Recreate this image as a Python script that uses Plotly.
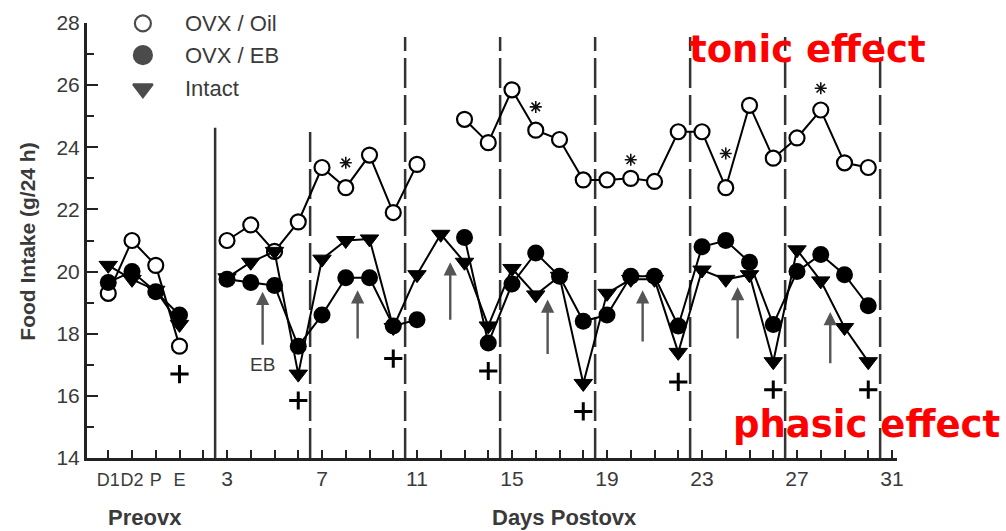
import plotly.graph_objects as go

# ---- data -------------------------------------------------------------
# Pre-ovariectomy cycle stages sit at x = -2..1, post-ovx days at x = 3..30
preovx_pos = [-2, -1, 0, 1]
preovx_labels = ["D1", "D2", "P", "E"]
post_days = list(range(3, 31))
post_ticks = [3, 7, 11, 15, 19, 23, 27, 31]

oil_pre = [19.3, 21.0, 20.2, 17.6]
eb_pre = [19.65, 20.0, 19.35, 18.6]
intact_pre = [20.2, 19.75, 19.4, 18.3]

oil_post = [21.0, 21.5, 20.65, 21.6, 23.35, 22.7, 23.75, 21.9, 23.45, None,
            24.9, 24.15, 25.85, 24.55, 24.25, 22.95, 22.95, 23.0, 22.9, 24.5,
            24.5, 22.7, 25.35, 23.65, 24.3, 25.2, 23.5, 23.35]
eb_post = [19.75, 19.65, 19.55, 17.6, 18.6, 19.8, 19.8, 18.25, 18.45, None,
           21.1, 17.7, 19.6, 20.6, 19.85, 18.4, 18.6, 19.85, 19.85, 18.25,
           20.8, 21.0, 20.3, 18.3, 20.0, 20.55, 19.9, 18.9]
intact_post = [19.8, 20.3, 20.65, 16.7, 20.4, 21.0, 21.05, 18.2, 19.9, 21.2,
               20.3, 18.25, 20.1, 19.25, 19.85, 16.4, 19.3, 19.75, 19.75, 17.4,
               20.05, 19.75, 19.9, 17.1, 20.7, 19.7, 18.2, 17.1]

# significance marks
plus_x = [1, 6, 10, 14, 18, 22, 26, 30]
plus_y = [16.7, 15.85, 17.2, 16.8, 15.5, 16.45, 16.2, 16.2]
star_x = [8, 16, 20, 24, 28]
star_y = [23.5, 25.3, 23.6, 23.8, 25.9]

# EB injection arrows (day, arrow tip, arrow tail)
arrow_x = [4.5, 8.5, 12.4, 16.5, 20.5, 24.5, 28.4]
arrow_tip = [19.35, 19.4, 20.3, 19.1, 19.4, 19.5, 18.7]
arrow_tail = [17.6, 17.8, 18.4, 17.3, 17.7, 17.8, 17.0]

# section separators: (x, top of line, dashed?)
sep_x = [2.5, 6.5, 10.5, 14.5, 18.5, 22.5, 26.5, 30.5]
sep_top = [24.63, 24.7, 27.55, 27.55, 27.55, 27.55, 27.55, 27.55]
sep_dash = [False, True, True, True, True, True, True, True]

legend_names = ["OVX / Oil", "OVX / EB", "Intact"]

# ---- figure -----------------------------------------------------------
FONT = "Liberation Sans, Arial, sans-serif"
INK = "#222"
TXT = "#3a3a3a"

x_all = preovx_pos + [None] + post_days

def series(pre, post):
    return pre + [None] + post

fig = go.Figure()

fig.add_trace(go.Scatter(
    x=x_all, y=series(oil_pre, oil_post), mode="lines+markers",
    line=dict(color="black", width=2), connectgaps=False,
    marker=dict(symbol="circle", size=15, color="white",
                line=dict(color="black", width=2.2)),
    name=legend_names[0], cliponaxis=False))
fig.add_trace(go.Scatter(
    x=x_all, y=series(intact_pre, intact_post), mode="lines+markers",
    line=dict(color="black", width=2), connectgaps=False,
    marker=dict(symbol="triangle-down", size=16, color="black",
                line=dict(color="black", width=1)),
    name=legend_names[2], cliponaxis=False))
fig.add_trace(go.Scatter(
    x=x_all, y=series(eb_pre, eb_post), mode="lines+markers",
    line=dict(color="black", width=2), connectgaps=False,
    marker=dict(symbol="circle", size=17, color="black"),
    name=legend_names[1], cliponaxis=False))

fig.add_trace(go.Scatter(
    x=plus_x, y=plus_y, mode="markers",
    marker=dict(symbol="cross-thin-open", size=13, color="black",
                line=dict(color="black", width=3)),
    showlegend=False))
fig.add_trace(go.Scatter(
    x=star_x, y=star_y, mode="markers",
    marker=dict(symbol="asterisk-open", size=10, color="#111",
                line=dict(color="#111", width=1.6)),
    showlegend=False))

# legend drawn on a unit overlay axis covering the plot area
leg_x = [0.069, 0.069, 0.069]
leg_y = [0.999, 0.926, 0.849]
fig.add_trace(go.Scatter(
    x=leg_x, y=leg_y, xaxis="x2", yaxis="y2", mode="markers",
    marker=dict(symbol=["circle", "circle", "triangle-down"],
                size=[16, 18, 17],
                color=["white", "black", "black"],
                line=dict(color="black", width=2.2)),
    cliponaxis=False, showlegend=False, hoverinfo="skip"))

annotations = []
for name, yy in zip(legend_names, leg_y):
    annotations.append(dict(
        x=0.118, y=yy, xref="x2", yref="y2", text=name, showarrow=False,
        xanchor="left", yanchor="middle",
        font=dict(family=FONT, size=22, color=TXT)))

for ax_, tip, tail in zip(arrow_x, arrow_tip, arrow_tail):
    annotations.append(dict(
        x=ax_, y=tip, ax=ax_, ay=tail, xref="x", yref="y",
        axref="x", ayref="y", text="", showarrow=True,
        arrowhead=2, arrowsize=1.1, arrowwidth=2.4, arrowcolor="#555"))

annotations.append(dict(
    x=arrow_x[0], y=17.02, xref="x", yref="y", text="EB", showarrow=False,
    font=dict(family=FONT, size=19, color=TXT)))

# axis titles
annotations.append(dict(
    x=-0.45, y=-0.136, xref="x", yref="paper", text="<b>Preovx</b>",
    showarrow=False, yanchor="middle",
    font=dict(family=FONT, size=22, color=TXT)))
annotations.append(dict(
    x=17.2, y=-0.136, xref="x", yref="paper", text="<b>Days Postovx</b>",
    showarrow=False, yanchor="middle",
    font=dict(family=FONT, size=22, color=TXT)))
annotations.append(dict(
    x=-0.073, y=0.497, xref="paper", yref="paper",
    text="<b>Food Intake (g/24 h)</b>", textangle=-90, showarrow=False,
    xanchor="center", yanchor="middle",
    font=dict(family=FONT, size=21, color=TXT)))

# red commentary
annotations.append(dict(
    x=0.890, y=0.94, xref="paper", yref="paper", text="<b>tonic effect</b>",
    showarrow=False, xanchor="center", yanchor="middle",
    font=dict(family="DejaVu Sans", size=37, color="#ff0000")))
annotations.append(dict(
    x=0.962, y=0.076, xref="paper", yref="paper", text="<b>phasic effect</b>",
    showarrow=False, xanchor="center", yanchor="middle",
    font=dict(family="DejaVu Sans", size=37, color="#ff0000")))

shapes = []
for sx, top, dashed in zip(sep_x, sep_top, sep_dash):
    shapes.append(dict(
        type="line", xref="x", yref="y", x0=sx, x1=sx, y0=14, y1=top,
        line=dict(color="#333", width=2.5, dash="30px,7px" if dashed else "solid"),
        layer="below"))

# tick labels: cycle stages in a smaller face, post-ovx days every 4th
tickvals = list(range(-2, 32))
ticktext = []
for v in tickvals:
    if v in preovx_pos:
        ticktext.append("<span style='font-size:18px'>%s</span>"
                        % preovx_labels[preovx_pos.index(v)])
    elif v in post_ticks:
        ticktext.append(str(v))
    else:
        ticktext.append("")

fig.update_layout(
    width=1006, height=531,
    margin=dict(l=87, r=109, t=23, b=73),
    plot_bgcolor="white", paper_bgcolor="white",
    showlegend=False,
    font=dict(family=FONT, color=TXT),
    annotations=annotations, shapes=shapes,
    xaxis=dict(
        range=[-2.895, 31.21], tickmode="array", tickvals=tickvals,
        ticktext=ticktext, tickangle=0, ticks="inside", ticklen=8, tickwidth=2,
        tickcolor=INK, showline=True, linewidth=3, linecolor=INK,
        showgrid=False, zeroline=False,
        tickfont=dict(family=FONT, size=21, color=TXT)),
    yaxis=dict(
        range=[14, 28], tick0=14, dtick=2, ticks="inside", ticklen=11,
        tickwidth=2, tickcolor=INK, showline=True, linewidth=3,
        linecolor=INK, showgrid=False, zeroline=False,
        minor=dict(dtick=1, ticks="inside", ticklen=7, tickwidth=2,
                   tickcolor=INK),
        tickfont=dict(family=FONT, size=21, color=TXT)),
    xaxis2=dict(range=[0, 1], overlaying="x", visible=False, fixedrange=True),
    yaxis2=dict(range=[0, 1], overlaying="y", visible=False, fixedrange=True),
)

fig.write_html("out.html")
